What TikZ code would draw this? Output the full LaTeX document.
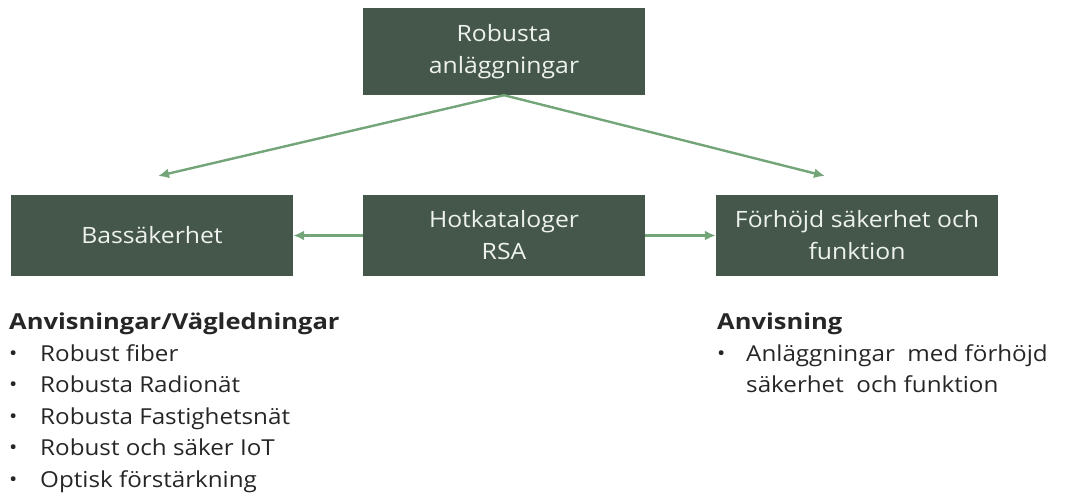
\documentclass[tikz,border=0pt]{standalone}
\usepackage{fontspec}
\setmainfont{Open Sans}[FakeStretch=1.1, BoldFeatures={FakeStretch=1.16}]
\usetikzlibrary{positioning, arrows.meta}
\definecolor{boxgreen}{HTML}{44574A}
\definecolor{arrowgreen}{HTML}{73A579}
\definecolor{boxtext}{HTML}{EEF2EE}
\newcommand{\blt}[1]{\makebox[#1][l]{\raisebox{1pt}{\fontsize{20}{20}\selectfont\textbullet}}}
\begin{document}
\begin{tikzpicture}[x=1pt, y=-1pt,
		box/.style={fill=boxgreen, text=boxtext, minimum width=282pt, minimum height=81pt, align=center, font=\fontsize{22.5}{32}\selectfont, inner sep=0pt},
		conn/.style={arrowgreen, line width=2.4pt, -{Latex[length=11pt, width=10pt]}},
		listtext/.style={anchor=north west, align=left, inner sep=0pt, font=\fontsize{22}{31.5}\selectfont, text=black!85}]
	\useasboundingbox (0, 0) rectangle (1065, 495) ;

	\node[box, minimum height=87pt] (top) at (504, 51.5) {Robusta\\anläggningar} ;
	\node[box] (bas) at (152, 235.5) {Bassäkerhet} ;
	\node[box] (hot) at (504, 235.5) {Hotkataloger\\RSA} ;
	\node[box] (forh) at (857, 235.5) {Förhöjd säkerhet och\\funktion} ;

	\coordinate (basend) at (158, 176) ;
	\coordinate (forhend) at (825, 176) ;
	\draw[conn] (top.south) -- (basend) ;
	\draw[conn] (top.south) -- (forhend) ;
	\draw[conn] (hot.west) -- (bas.east) ;
	\draw[conn] (hot.east) -- (forh.west) ;

	% lists below the boxes
	\node[listtext] (baslist) at (9, 313) {\textbf{Anvisningar/Vägledningar}\\
		\blt{31pt}Robust fiber\\
		\blt{31pt}Robusta Radionät\\
		\blt{31pt}Robusta Fastighetsnät\\
		\blt{31pt}Robust och säker IoT\\
		\blt{31pt}Optisk förstärkning} ;
	\node[listtext] (forhlist) at (717, 313) {\textbf{Anvisning}\\
		\blt{29pt}Anläggningar\ \ med förhöjd\\
		\hspace*{29pt}säkerhet\ \ och funktion} ;
\end{tikzpicture}
\end{document}
